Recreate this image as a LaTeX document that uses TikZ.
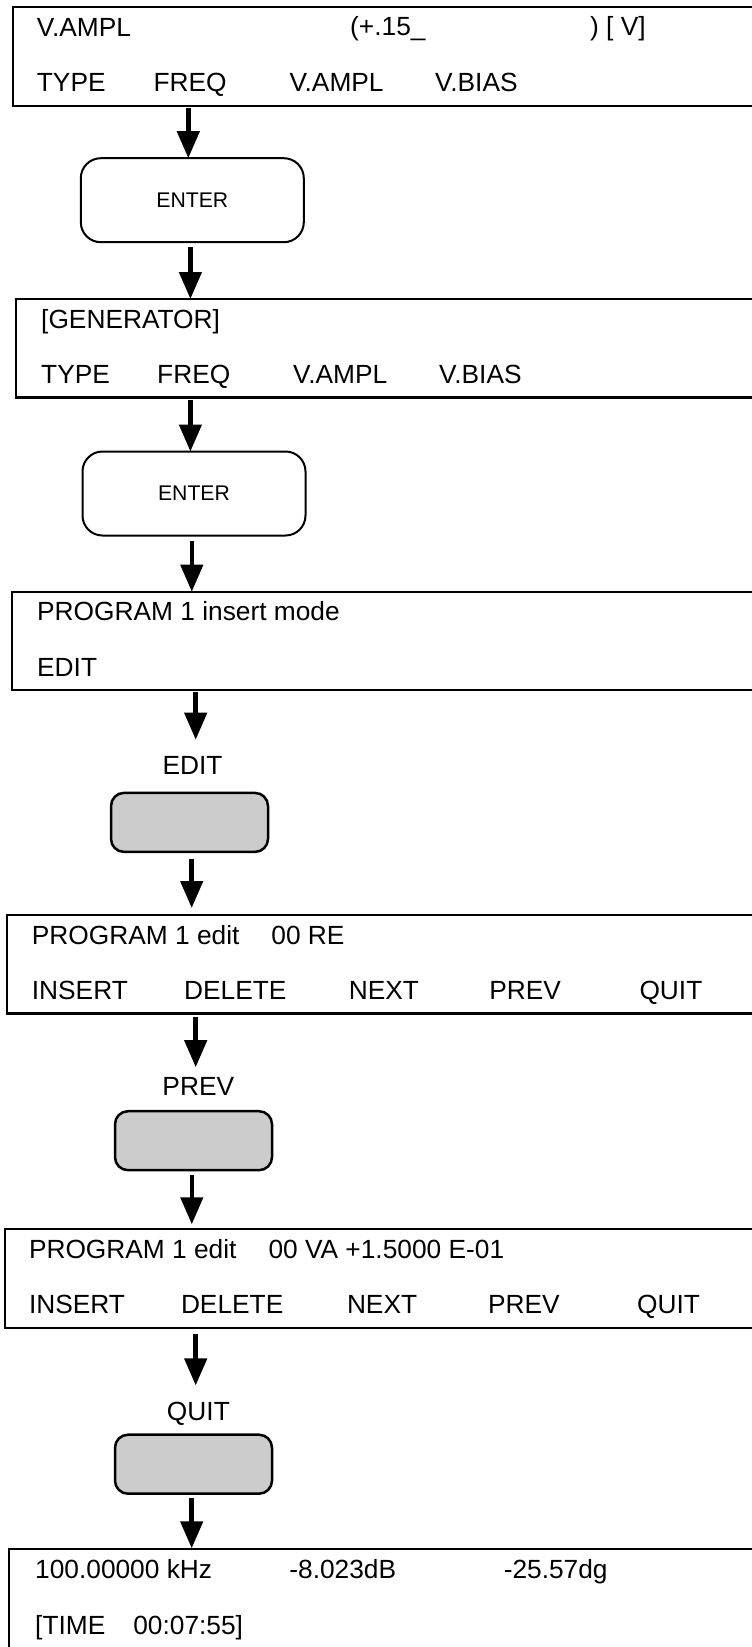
\documentclass[tikz,border=0pt]{standalone}
\usepackage{fontspec}
\setmainfont{Liberation Sans}
\usetikzlibrary{arrows.meta}
\definecolor{keygray}{RGB}{204,204,204}
\begin{document}
\begin{tikzpicture}[x=1pt,y=-1pt,
  scr/.style={draw,line width=2.2pt,rectangle,minimum width=800pt,minimum height=98.5pt,anchor=north west,inner sep=0pt,outer sep=0pt},
  txt/.style={anchor=base west,inner sep=0pt,font=\fontsize{26.3}{30}\selectfont},
  lbl/.style={anchor=base,inner sep=0pt,font=\fontsize{26.3}{30}\selectfont},
  enterbox/.style={draw,line width=2pt,rounded corners=20pt,minimum width=223pt,minimum height=84pt,inner sep=0pt,outer sep=0pt,font=\fontsize{21.2}{24}\selectfont},
  keybox/.style={draw,line width=2.5pt,fill=keygray,rounded corners=13pt,minimum width=157pt,minimum height=59pt,inner sep=0pt,outer sep=0pt},
  arr/.style={line width=4.5pt,-{Triangle[width=22pt,length=27pt]}}
]
\useasboundingbox (0,0) rectangle (752,1647);
\clip (0,0) rectangle (752,1647);

% screen 1
\node[scr] (s1) at (12.7,7.3) {};
\node[txt] (s1a) at (36.7,36) {V.AMPL};
\node[txt] (s1b) at (350,35.5) {(+.15\_};
\node[txt] (s1c) at (590,35.5) {) [ V]};
\node[txt] (s1d) at (36.7,91) {TYPE};
\node[txt] (s1e) at (153.3,91) {FREQ};
\node[txt] (s1f) at (289.3,91) {V.AMPL};
\node[txt] (s1g) at (435,91) {V.BIAS};

\node[enterbox] (e1) at (192.3,200.2) {ENTER};

% screen 2
\node[scr] (s2) at (15.8,299) {};
\node[txt] (s2a) at (41,328.3) {[GENERATOR]};
\node[txt] (s2b) at (41,383.5) {TYPE};
\node[txt] (s2c) at (157,383.5) {FREQ};
\node[txt] (s2d) at (293,383.5) {V.AMPL};
\node[txt] (s2e) at (439,383.5) {V.BIAS};

\node[enterbox] (e2) at (194,493.5) {ENTER};

% screen 3
\node[scr] (s3) at (12,591.7) {};
\node[txt] (s3a) at (37,620.7) {PROGRAM 1 insert mode};
\node[txt] (s3b) at (37,676) {EDIT};

\node[lbl] (lEdit) at (192.5,774) {EDIT};
\node[keybox] (k1) at (189.5,822.4) {};

% screen 4
\node[scr] (s4) at (6.7,915) {};
\node[txt] (s4a) at (31.7,944.3) {PROGRAM 1 edit\hspace{32pt}00 RE};
\node[txt] (s4b) at (31.7,999.3) {INSERT};
\node[txt] (s4c) at (184,999.3) {DELETE};
\node[txt] (s4d) at (348.7,999.3) {NEXT};
\node[txt] (s4e) at (489.2,999.3) {PREV};
\node[txt] (s4f) at (639.3,999.3) {QUIT};

\node[lbl] (lPrev) at (198.3,1095) {PREV};
\node[keybox] (k2) at (193.5,1140.7) {};

% screen 5
\node[scr] (s5) at (4.8,1229.3) {};
\node[txt] (s5a) at (28.8,1258.3) {PROGRAM 1 edit\hspace{32pt}00 VA +1.5000 E-01};
\node[txt] (s5b) at (28.8,1313) {INSERT};
\node[txt] (s5c) at (180.8,1313) {DELETE};
\node[txt] (s5d) at (346.8,1313) {NEXT};
\node[txt] (s5e) at (487.8,1313) {PREV};
\node[txt] (s5f) at (637,1313) {QUIT};

\node[lbl] (lQuit) at (198.4,1420) {QUIT};
\node[keybox] (k3) at (193.5,1464.2) {};

% screen 6
\node[scr] (s6) at (9,1549.3) {};
\node[txt] (s6a) at (35,1578.5) {100.00000 kHz};
\node[txt] (s6b) at (289.2,1578.5) {-8.023dB};
\node[txt] (s6c) at (503.6,1578.5) {-25.57dg};
\node[txt] (s6d) at (35,1634) {[TIME\hspace{28pt}00:07:55]};

% arrow columns
\coordinate (x1) at (188.3,0);
\coordinate (x2) at (190.4,0);
\coordinate (x3) at (190.4,0);
\coordinate (x4) at (191.8,0);
\coordinate (x5) at (195.7,0);
\coordinate (x6) at (191.7,0);
\coordinate (x7) at (195.7,0);
\coordinate (x8) at (191.8,0);
\coordinate (x9) at (195.7,0);
\coordinate (x10) at (191.7,0);

\draw[arr,shorten <=2.3pt] (s1.south -| x1) -- (e1.north -| x1);
\draw[arr,shorten <=5pt] (e1.south -| x2) -- (s2.north -| x2);
\draw[arr,shorten <=2.5pt] (s2.south -| x3) -- (e2.north -| x3);
\draw[arr,shorten <=5pt] (e2.south -| x4) -- (s3.north -| x4);
\draw[arr,shorten <=2pt,shorten >=16pt] (s3.south -| x5) -- (lEdit.north -| x5);
\draw[arr,shorten <=7pt,shorten >=7pt] (k1.south -| x6) -- (s4.north -| x6);
\draw[arr,shorten <=3pt,shorten >=9.5pt] (s4.south -| x7) -- (lPrev.north -| x7);
\draw[arr,shorten <=5pt,shorten >=5pt] (k2.south -| x8) -- (s5.north -| x8);
\draw[arr,shorten <=6pt,shorten >=16pt] (s5.south -| x9) -- (lQuit.north -| x9);
\draw[arr,shorten <=4pt,shorten >=1pt] (k3.south -| x10) -- (s6.north -| x10);
\end{tikzpicture}
\end{document}
